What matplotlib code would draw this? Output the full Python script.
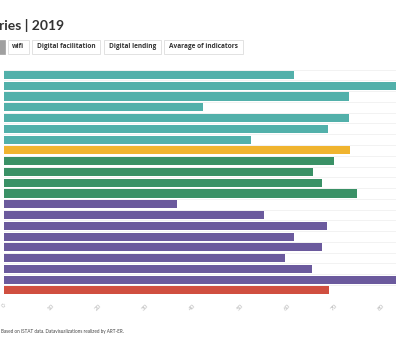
import numpy as np
import matplotlib
matplotlib.use("Agg")
from matplotlib import pyplot as plt
from matplotlib.patches import FancyBboxPatch

# values (0-100 scale), top to bottom
teal_vals = [61.4, 86.0, 73.1, 42.2, 73.1, 68.6, 52.3]
yellow_vals = [73.3]
green_vals = [69.9, 65.5, 67.4, 74.8]
purple_vals = [36.7, 55.1, 68.4, 61.4, 67.4, 59.5, 65.3, 88.0]
red_vals = [68.9]

x_ticks = [0, 10, 20, 30, 40, 50, 60, 70, 80]
buttons = ["wifi", "Digital facilitation", "Digital lending", "Avarage of indicators"]
title = "ries | 2019"
footer = "Based on ISTAT data. Datavisualizations realized by ART-ER."

groups = [
	(teal_vals, "#52b0aa"),
	(yellow_vals, "#f0b42f"),
	(green_vals, "#3a9166"),
	(purple_vals, "#6b5a9d"),
	(red_vals, "#d04f40"),
]

values = []
colors = []
for vals, col in groups:
	values += vals
	colors += [col] * len(vals)
n = len(values)

W, H = 396, 360
fig = plt.figure(figsize=(W / 100, H / 100), dpi=100)
plt.rcParams['font.family'] = ['Lato', 'DejaVu Sans']

top_px, bot_px = 69.6, 295.8
left_px = 4
ax = fig.add_axes([left_px / W, 1 - bot_px / H, (W - left_px) / W, (bot_px - top_px) / H])
ypos = np.arange(n)
for y in np.arange(n + 1) - 0.5:
	ax.axhline(y, color="#f0f0f0", lw=0.6, zorder=0)
ax.barh(ypos, values, height=0.75, color=colors, zorder=2)
ax.set_ylim(n - 0.5, -0.5)
ax.set_xlim(0, (W - left_px) / 4.72)
ax.set_xticks(x_ticks)
ax.set_xticklabels([str(t) for t in x_ticks], rotation=45, fontsize=4.5, color="#b5b5b5")
ax.tick_params(axis="x", length=0, pad=5)
ax.set_yticks([])
for s in ax.spines.values():
	s.set_visible(False)

# title (cut on the left in the original)
fig.text(-1 / W, 1 - 25 / H, title, fontsize=10, fontweight="bold", color="#333333", va="center", ha="left")

# button bar
btn = [(8, 29), (32, 100), (104, 161), (164, 243)]
gray = FancyBboxPatch((-10 / W, 1 - 54 / H), 14.5 / W, 14 / H, boxstyle="square,pad=0",
	transform=fig.transFigure, facecolor="#a0a0a0", edgecolor="#a0a0a0", lw=0.5)
fig.patches.append(gray)
for (x0, x1), label in zip(btn, buttons):
	p = FancyBboxPatch((x0 / W, 1 - 54 / H), (x1 - x0) / W, 14 / H, boxstyle="square,pad=0",
		transform=fig.transFigure, facecolor="white", edgecolor="#dddddd", lw=0.6)
	fig.patches.append(p)
	fig.text((x0 + x1) / 2 / W, 1 - 47 / H, label, fontsize=4.7, fontweight="bold", color="#333333",
		ha="center", va="center", family=["Open Sans", "DejaVu Sans"])

fig.text(1 / W, 1 - 332 / H, footer, fontsize=3.3, color="#444444", ha="left", va="center")

fig.savefig("out.png", dpi=100)
